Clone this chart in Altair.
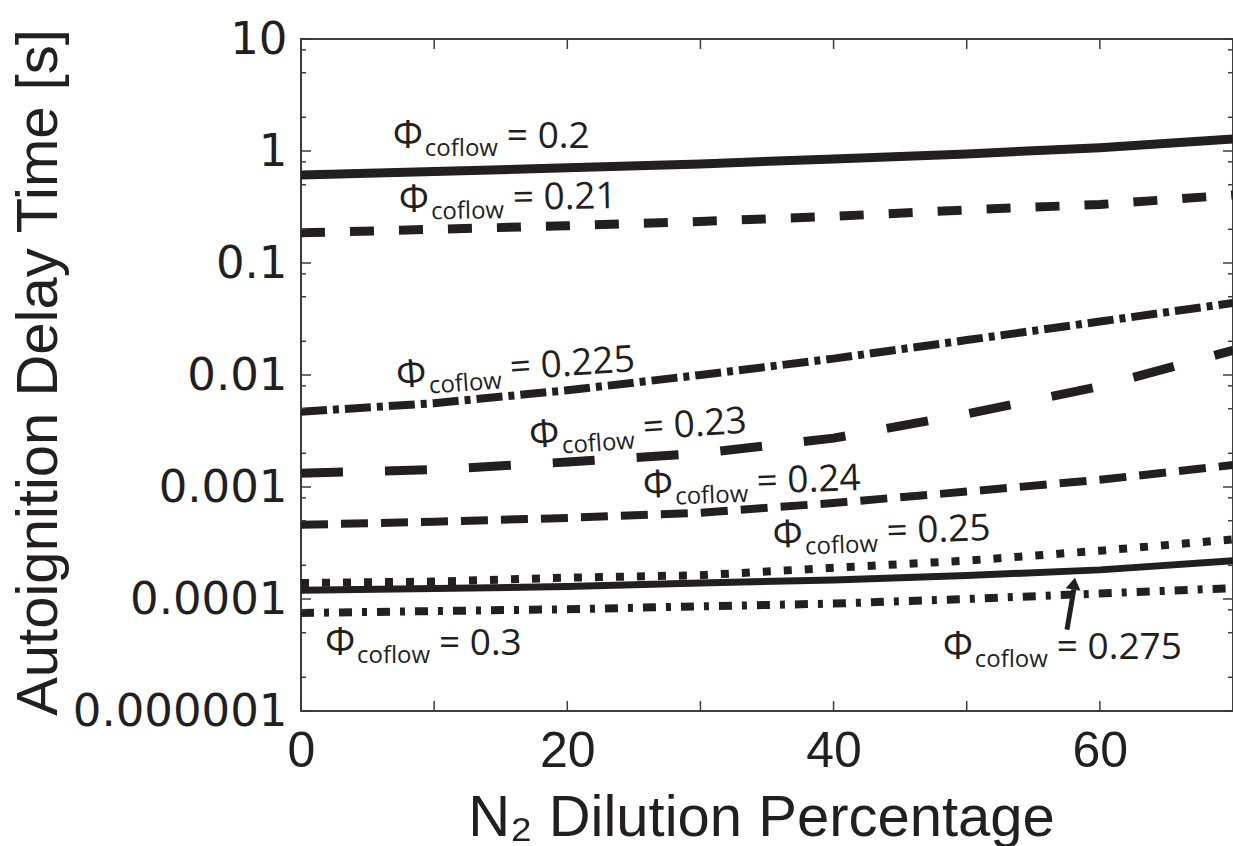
import altair as alt
import pandas as pd

INK = "#231f20"
FRAME = "#3d3d3d"

# N2 dilution (%) and autoignition delay time (s) for each coflow equivalence ratio
n2_pct = [0, 10, 20, 30, 40, 50, 60, 70]
tau_0200 = [0.612, 0.655, 0.707, 0.767, 0.850, 0.942, 1.07, 1.28]
tau_0210 = [0.186, 0.200, 0.215, 0.235, 0.261, 0.298, 0.333, 0.405]
tau_0225 = [0.0047, 0.0056, 0.0073, 0.0100, 0.0140, 0.0205, 0.0300, 0.0440]
tau_0230 = [0.00133, 0.00143, 0.00167, 0.00200, 0.00273, 0.00450, 0.00790, 0.0166]
tau_0240 = [0.00046, 0.00049, 0.00053, 0.00059, 0.00072, 0.00091, 0.00116, 0.00157]
tau_0250 = [0.000139, 0.000143, 0.000155, 0.000163, 0.000190, 0.000220, 0.000270, 0.000340]
tau_0275 = [0.000120, 0.000124, 0.000129, 0.000139, 0.000148, 0.000162, 0.000182, 0.000220]
tau_0300 = [0.000075, 0.000078, 0.000081, 0.000086, 0.000091, 0.000100, 0.000112, 0.000125]

# curve labels: value, anchor (left end of the baseline) and tilt
phi_labels = ["0.2", "0.21", "0.225", "0.23", "0.24", "0.25", "0.275", "0.3"]
label_x = [6.9, 7.36, 7.21, 17.2, 25.7, 35.45, 48.2, 1.8]
label_y = [1.065, 0.286, 0.00769, 0.00224, 0.000804, 0.000288, 2.94e-5, 3.19e-5]
label_angle = [0, 359, 356, 356, 358, 358, 0, 0]

# pointer from the 0.275 label to its curve
arrow_x = [57.53, 58.05]
arrow_y = [5.33e-5, 1.22e-4]
arrow_tip_x = [58.13]
arrow_tip_y = [1.55e-4]

# axes
x_ticks = [0, 10, 20, 30, 40, 50, 60, 70]
x_labels = [0, 20, 40, 60]
y_decades = [1e-5, 1e-4, 1e-3, 1e-2, 1e-1, 1, 10]
y_decade_labels = ["0.000001", "0.0001", "0.001", "0.01", "0.1", "1", "10"]
y_minor = [m * d for d in y_decades[:-1] for m in (2, 5, 8)]

W, H = 932, 672

curves = [
    ("0.2", tau_0200, None, 9),
    ("0.21", tau_0210, [24, 25], 9),
    ("0.225", tau_0225, [26, 6, 6, 6], 8),
    ("0.23", tau_0230, [42, 42], 9),
    ("0.24", tau_0240, [27, 13], 8),
    ("0.25", tau_0250, [8, 13], 8),
    ("0.275", tau_0275, None, 7),
    ("0.3", tau_0300, [13, 10, 5, 10], 8),
]

xscale = alt.Scale(domain=[0, 70], nice=False, zero=False)
yscale = alt.Scale(type="log", domain=[1e-5, 10], nice=False)

label_list = "[" + ",".join("'%s'" % s for s in y_decade_labels) + "]"
xaxis = alt.Axis(
    values=x_labels, format="d", grid=False, ticks=False, domain=False,
    labelFont="Liberation Sans", labelFontSize=50, labelColor=INK,
    labelPadding=15, labelFlush=False, labelOverlap=False, labelLimit=0,
    title="N\u2082 Dilution Percentage", titleFont="Liberation Sans",
    titleFontSize=58, titleFontWeight="normal", titleColor=INK,
    titleX=460, titleY=124, titleBaseline="alphabetic", titleAlign="center",
    titleLimit=0,
)
yaxis = alt.Axis(
    values=y_decades, labelExpr=label_list + "[round(log(datum.value)/LN10)+5]",
    grid=False, ticks=False, domain=False,
    labelFont="DejaVu Sans", labelFontSize=45, labelColor=INK,
    labelPadding=14, labelOverlap=False, labelFlush=False, labelLimit=0,
    title="Autoignition Delay Time [s]", titleFont="Liberation Sans",
    titleFontSize=58, titleFontWeight="normal", titleColor=INK,
    titleX=-245, titleY=333, titleAngle=270, titleBaseline="alphabetic",
    titleAlign="center", titleLimit=0,
)


def X(field):
    return alt.X(field, type="quantitative", scale=xscale, axis=xaxis)


def Y(field):
    return alt.Y(field, type="quantitative", scale=yscale, axis=yaxis)


layers = []

# delay-time curves
for name, tau, dash, width in curves:
    df = pd.DataFrame({"x": n2_pct, "y": tau})
    kw = dict(color=INK, strokeWidth=width, strokeCap="butt", strokeJoin="miter")
    if dash:
        kw["strokeDash"] = dash
    layers.append(alt.Chart(df).mark_line(**kw).encode(x=X("x"), y=Y("y")))

# inward frame ticks
xt = pd.DataFrame({"x": x_ticks})
for y0, y1 in ((H, H - 10), (0, 10)):
    layers.append(
        alt.Chart(xt).mark_rule(color=FRAME, strokeWidth=1.5).encode(
            x=X("x"), y=alt.value(y0), y2=alt.value(y1)
        )
    )
for vals, ln in ((y_decades, 10), (y_minor, 5)):
    yt = pd.DataFrame({"y": vals})
    for x0, x1 in ((0, ln), (W, W - ln)):
        layers.append(
            alt.Chart(yt).mark_rule(color=FRAME, strokeWidth=1.5).encode(
                y=Y("y"), x=alt.value(x0), x2=alt.value(x1)
            )
        )

# curve labels: Phi, subscript, and "= value"
lab = pd.DataFrame({"x": label_x, "y": label_y, "phi": phi_labels, "angle": label_angle})
lab["main"] = "= " + lab["phi"]
lab["sym"] = "\u03a6"
lab["sub"] = "coflow"
for col, size, dx, dy in (("sym", 38, 0, 0), ("sub", 24, 32, 8), ("main", 37, 114, 0)):
    layers.append(
        alt.Chart(lab).mark_text(
            font="Open Sans", fontSize=size, color=INK, align="left",
            baseline="alphabetic", dx=dx, dy=dy,
        ).encode(
            x=X("x"), y=Y("y"), text=alt.Text(col), angle=alt.Angle("angle:Q", scale=None)
        )
    )

# pointer arrow
arr = pd.DataFrame({"x": arrow_x, "y": arrow_y})
layers.append(
    alt.Chart(arr).mark_line(color=INK, strokeWidth=5, strokeCap="butt").encode(
        x=X("x"), y=Y("y")
    )
)
tip = pd.DataFrame({"x": arrow_tip_x, "y": arrow_tip_y})
layers.append(
    alt.Chart(tip).mark_point(
        shape="M0,0L-1,1.6L1,1.6Z", size=225, filled=True, color=INK, opacity=1, angle=9
    ).encode(x=X("x"), y=Y("y"))
)

chart = (
    alt.layer(*layers)
    .properties(
        width=W, height=H,
        padding={"left": 301, "top": 39, "right": 0, "bottom": 135},
        autosize=alt.AutoSizeParams(type="none"),
        background="white",
    )
    .configure_view(stroke=FRAME, strokeWidth=2)
)

chart.save("out.html", embed_options={"renderer": "svg", "actions": False})
